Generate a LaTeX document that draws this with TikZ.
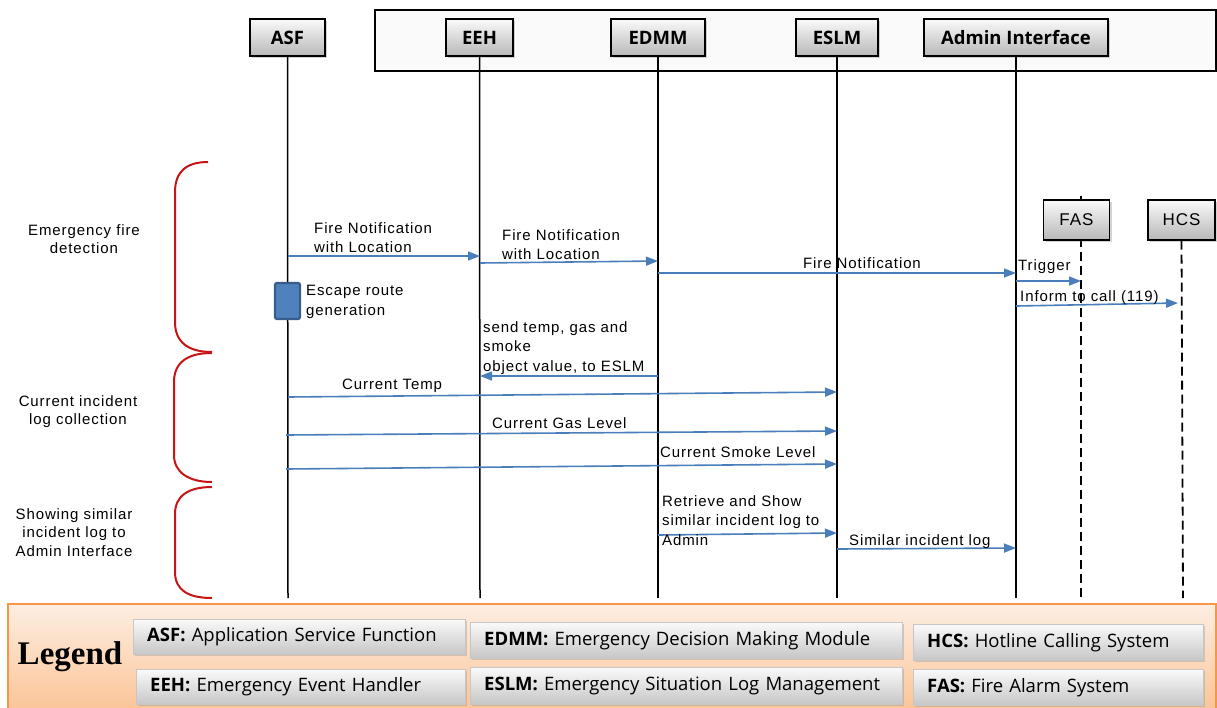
\documentclass[tikz,border=0pt]{standalone}
\usepackage{fontspec}
\setmainfont{Liberation Sans}
\newfontfamily\lblfont[LetterSpace=6]{Liberation Sans}
\newfontfamily\boxfont{Open Sans}
\newfontfamily\legfont{Liberation Serif}
\usetikzlibrary{arrows.meta,shadows}
\definecolor{msgblue}{HTML}{4A7EBB}
\definecolor{actfill}{HTML}{4F81BD}
\definecolor{actline}{HTML}{385D8A}
\definecolor{bracered}{HTML}{C81414}
\definecolor{legline}{HTML}{F79646}
\definecolor{legtop}{HTML}{FDEEE2}
\definecolor{legbot}{HTML}{FBC496}
\tikzset{
  head/.style={draw=black, line width=1.3pt, top color=black!2, bottom color=black!28,
    drop shadow={shadow xshift=2pt, shadow yshift=-2pt, opacity=.35},
    font=\boxfont\fontsize{18.5}{22}\selectfont\bfseries, inner sep=0pt},
  ext/.style={head, font=\lblfont\fontsize{17}{20}\selectfont},
  life/.style={draw=black, line width=1.5pt},
  extlife/.style={draw=black, line width=1.8pt, dash pattern=on 9pt off 5pt},
  msg/.style={draw=msgblue, line width=1.6pt, -{Triangle[length=12pt,width=9pt]}},
  lbl/.style={font=\lblfont\fontsize{15}{19.5}\selectfont, inner sep=0pt, align=left},
  phase/.style={font=\lblfont\fontsize{15}{18.5}\selectfont, inner sep=0pt, align=center, anchor=north},
  brace/.style={draw=bracered, line width=2pt},
  legitem/.style={top color=black!2, bottom color=black!22, draw=black!22, line width=0.4pt,
    drop shadow={shadow xshift=2pt, shadow yshift=-2pt, opacity=.3},
    anchor=north west, inner ysep=0pt, align=left,
    font=\boxfont\fontsize{18.5}{21}\selectfont}
}
\begin{document}
\begin{tikzpicture}[x=1pt, y=-1pt]
\useasboundingbox (0,0) rectangle (1217,707);

% frame around the system modules
\draw[line width=1.5pt, fill=black!2] (375,10) rectangle (1216,71);

% participants
\node[head, minimum width=75pt, minimum height=37pt] (asf) at (287.5,37.5) {ASF};
\node[head, minimum width=67pt, minimum height=37pt] (eeh) at (479.5,37.5) {EEH};
\node[head, minimum width=94pt, minimum height=37pt] (edmm) at (658,37.5) {EDMM};
\node[head, minimum width=82pt, minimum height=37pt] (eslm) at (837,37.5) {ESLM};
\node[head, minimum width=184pt, minimum height=37pt] (adm) at (1016,37.5) {Admin Interface};

% lifeline ends
\coordinate (asfE) at (288,598);
\coordinate (eehE) at (480,598);
\coordinate (edmmE) at (658,598);
\coordinate (eslmE) at (837,598);
\coordinate (admE) at (1016,598);
\coordinate (fasT) at (1081,196);
\coordinate (fasE) at (1081,598);
\coordinate (hcsE) at (1183,598);

\draw[life] (asf.south) -- (asfE);
\draw[life] (eeh.south) -- (eehE);
\draw[life] (edmm.south) -- (edmmE);
\draw[life] (eslm.south) -- (eslmE);
\draw[life] (adm.south) -- (admE);
\draw[extlife] (fasT) -- (fasE);

% external systems
\node[ext, minimum width=66pt, minimum height=40pt] (fas) at (1076.5,220) {FAS};
\node[ext, minimum width=67pt, minimum height=40pt] (hcs) at (1181.5,220) {HCS};
\draw[extlife] (hcs.south) -- (hcsE);

% escape route activation
\node[draw=actline, fill=actfill, line width=2.2pt, rounded corners=2pt,
      minimum width=25pt, minimum height=36pt, inner sep=0pt] (esc) at (287.5,301) {};
\node[lbl, anchor=north west] (escl) at (306,285) {Escape route\\generation};

% messages
\coordinate (m1a) at (288,256); \coordinate (m1b) at (480,256);
\draw[msg] (m1a) -- (m1b);
\node[lbl, anchor=north west] (m1l) at (314,222) {Fire Notification\\with Location};

\coordinate (m2a) at (480,263); \coordinate (m2b) at (658,261);
\draw[msg] (m2a) -- (m2b);
\node[lbl, anchor=north west] (m2l) at (502,229) {Fire Notification\\with Location};

\coordinate (m3a) at (658,273); \coordinate (m3b) at (1016,273);
\draw[msg] (m3a) -- (m3b);
\node[lbl, anchor=base] (m3l) at (862,268) {Fire Notification};

\coordinate (m4a) at (1016,281); \coordinate (m4b) at (1081,281);
\draw[msg] (m4a) -- (m4b);
\node[lbl, anchor=base west] (m4l) at (1018,270) {Trigger};

\coordinate (m5a) at (1016,306); \coordinate (m5b) at (1178,303);
\draw[msg] (m5a) -- (m5b);
\node[lbl, anchor=base west] (m5l) at (1020,301) {Inform to call (119)};

\coordinate (m6a) at (658,376); \coordinate (m6b) at (480,376);
\draw[msg] (m6a) -- (m6b);
\node[lbl, anchor=north west] (m6l) at (483,321) {send temp, gas and\\smoke\\object value, to ESLM};

\coordinate (m7a) at (288,397); \coordinate (m7b) at (837,392);
\draw[msg] (m7a) -- (m7b);
\node[lbl, anchor=base west] (m7l) at (342,389) {Current Temp};

\coordinate (m8a) at (286,435); \coordinate (m8b) at (837,431);
\draw[msg] (m8a) -- (m8b);
\node[lbl, anchor=base west] (m8l) at (492,428) {Current Gas Level};

\coordinate (m9a) at (286,469); \coordinate (m9b) at (837,464);
\draw[msg] (m9a) -- (m9b);
\node[lbl, anchor=base west] (m9l) at (660,457) {Current Smoke Level};

\coordinate (m10a) at (658,535); \coordinate (m10b) at (837,533);
\draw[msg] (m10a) -- (m10b);
\node[lbl, anchor=north west] (m10l) at (662,495) {Retrieve and Show\\similar incident log to\\Admin};

\coordinate (m11a) at (837,549); \coordinate (m11b) at (1016,548);
\draw[msg] (m11a) -- (m11b);
\node[lbl, anchor=base west] (m11l) at (849,545) {Similar incident log};

% phase brackets
\draw[brace] (208,162) .. controls (186,162) and (175,172) .. (175,192) -- (175,322)
  .. controls (175,342) and (188,352) .. (212,352);
\draw[brace] (212,353) .. controls (188,353) and (174,362) .. (174,382) -- (174,455)
  .. controls (174,472) and (188,482) .. (212,482);
\draw[brace] (212,487) .. controls (188,487) and (175,496) .. (175,514) -- (175,572)
  .. controls (175,590) and (188,598) .. (212,598);

\node[phase] (p1) at (84,224) {Emergency fire\\detection};
\node[phase] (p2) at (78,395) {Current incident\\log collection};
\node[phase] (p3) at (74,508) {Showing similar\\incident log to\\Admin Interface};

% legend
\draw[draw=legline, line width=2pt, top color=legtop, bottom color=legbot] (8,604) rectangle (1216,712);
\node[font=\legfont\fontsize{33}{36}\selectfont\bfseries, inner sep=0pt] (leg) at (70,657) {Legend};

\node[legitem, minimum height=35pt, text width=304pt, inner xsep=14pt] (l1) at (133,619)
  {\textbf{ASF:} Application Service Function};
\node[legitem, minimum height=36pt, text width=404pt, inner xsep=14pt] (l2) at (470,622)
  {\textbf{EDMM:} Emergency Decision Making Module};
\node[legitem, minimum height=36pt, text width=262pt, inner xsep=14pt] (l3) at (913,624)
  {\textbf{HCS:} Hotline Calling System};
\node[legitem, minimum height=35pt, text width=301pt, inner xsep=14pt] (l4) at (136,669)
  {\textbf{EEH:} Emergency Event Handler};
\node[legitem, minimum height=37pt, text width=404pt, inner xsep=14pt] (l5) at (470,667)
  {\textbf{ESLM:} Emergency Situation Log Management};
\node[legitem, minimum height=36pt, text width=262pt, inner xsep=14pt] (l6) at (913,669)
  {\textbf{FAS:} Fire Alarm System};
\end{tikzpicture}
\end{document}
